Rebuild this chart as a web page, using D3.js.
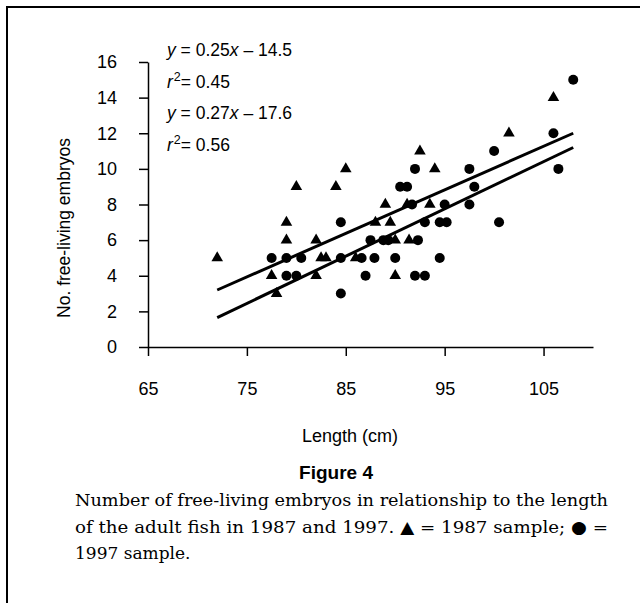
<!DOCTYPE html>
<html>
<head>
<meta charset="utf-8">
<script src="https://cdn.jsdelivr.net/npm/d3@7"></script>
<style>
  body { margin: 0; background: #fff; }
  .axis text { font-family: 'Liberation Sans', Arial, sans-serif; font-size: 18px; fill: #000; }
  .axis path, .axis line { stroke: #000; stroke-width: 1.5; }
  .eq { font-family: 'Liberation Sans', Arial, sans-serif; font-size: 17.5px; }
  .caption { font-family: 'DejaVu Serif', serif; font-size: 17px; }
</style>
</head>
<body>
<div id="chart"></div>
<script>
// 1987 sample (triangles)
var len1987 = [72, 77.5, 78, 79, 79, 80, 82, 82, 82.5, 83, 84, 85, 86, 88, 89.5, 89, 90, 91.4, 90, 91.2, 93.5, 92.5, 94, 101.5, 106];
var emb1987 = [5, 4, 3, 6, 7, 9, 6, 4, 5, 5, 9, 10, 5, 7, 7, 8, 6, 6, 4, 8, 8, 11, 10, 12, 14];

// 1997 sample (circles)
var len1997 = [77.5, 79, 80.5, 79, 80, 84.5, 84.5, 84.5, 86.6, 87.9, 87, 87.5, 88.8, 89.3, 90, 90.5, 91.2, 91.7, 92.3, 92, 92, 93, 93, 94.5, 95.2, 94.5, 95, 97.5, 97.5, 98, 100, 100.5, 106, 106.5, 108];
var emb1997 = [5, 5, 5, 4, 4, 3, 7, 5, 5, 5, 4, 6, 6, 6, 5, 9, 9, 8, 6, 10, 4, 4, 7, 7, 7, 5, 8, 8, 10, 9, 11, 7, 12, 10, 15];

// regression lines, end points as drawn
var fitX = [72, 108];
var fitUpper = [3.2, 12.0];
var fitLower = [1.65, 11.2];

var xTicks = [65, 75, 85, 95, 105];
var yTicks = [0, 2, 4, 6, 8, 10, 12, 14, 16];

var width = 640, height = 603;

var svg = d3.select('#chart')
    .append('svg')
    .attr('width', width)
    .attr('height', height);

// frame (left and top edges)
svg.append('path')
    .attr('d', 'M7,' + height + 'V7H' + width)
    .attr('fill', 'none')
    .attr('stroke', '#000')
    .attr('stroke-width', 2);

var x = d3.scaleLinear().domain([65, 110]).range([148, 593]);
var y = d3.scaleLinear().domain([0, 16]).range([347, 62]);

svg.append('g')
    .attr('class', 'axis')
    .attr('transform', 'translate(0,' + y(0) + ')')
    .call(d3.axisBottom(x).tickValues(xTicks).tickSize(9).tickSizeOuter(0).tickPadding(26));

svg.append('g')
    .attr('class', 'axis')
    .attr('transform', 'translate(' + x(65) + ',0)')
    .call(d3.axisLeft(y).tickValues(yTicks).tickSize(9).tickSizeOuter(0).tickPadding(22));

svg.selectAll('.axis .tick text').attr('fill', '#000');

svg.append('text')
    .attr('class', 'eq')
    .attr('x', 350)
    .attr('y', 442)
    .attr('text-anchor', 'middle')
    .style('font-size', '18px')
    .text('Length (cm)');

svg.append('text')
    .attr('class', 'eq')
    .attr('transform', 'translate(70,228) rotate(-90)')
    .attr('text-anchor', 'middle')
    .text('No. free-living embryos');

// fitted lines
var line = d3.line()
    .x(function (d) { return x(d[0]); })
    .y(function (d) { return y(d[1]); });

[fitUpper, fitLower].forEach(function (fy) {
    svg.append('path')
        .attr('d', line(fitX.map(function (v, i) { return [v, fy[i]]; })))
        .attr('fill', 'none')
        .attr('stroke', '#000')
        .attr('stroke-width', 3);
});

// points
var tri = d3.symbol().type(d3.symbolTriangle).size(58);
svg.append('g').selectAll('path')
    .data(len1987)
    .enter().append('path')
    .attr('d', tri)
    .attr('transform', function (d, i) {
        return 'translate(' + x(d) + ',' + y(emb1987[i]) + ')';
    })
    .attr('fill', '#000');

svg.append('g').selectAll('circle')
    .data(len1997)
    .enter().append('circle')
    .attr('cx', function (d) { return x(d); })
    .attr('cy', function (d, i) { return y(emb1997[i]); })
    .attr('r', 5)
    .attr('fill', '#000');

// equation labels
var eqs = [
    { kind: 'y', a: '0.25', b: '14.5' },
    { kind: 'r', v: '0.45' },
    { kind: 'y', a: '0.27', b: '17.6' },
    { kind: 'r', v: '0.56' }
];
eqs.forEach(function (e, i) {
    var t = svg.append('text')
        .attr('class', 'eq')
        .attr('x', 167)
        .attr('y', 56 + i * 31.5);
    if (e.kind === 'y') {
        t.append('tspan').style('font-style', 'italic').text('y');
        t.append('tspan').text(' = ' + e.a);
        t.append('tspan').style('font-style', 'italic').text('x');
        t.append('tspan').text(' \u2013 ' + e.b);
    } else {
        t.append('tspan').style('font-style', 'italic').text('r');
        t.append('tspan').attr('dx', 1).attr('dy', -7).style('font-size', '12.5px').text('2');
        t.append('tspan').attr('dy', 7).text('= ' + e.v);
    }
});

// caption
svg.append('text')
    .attr('x', 336)
    .attr('y', 479)
    .attr('text-anchor', 'middle')
    .style('font-family', "'Liberation Sans', Arial, sans-serif")
    .style('font-weight', 'bold')
    .style('font-size', '19px')
    .text('Figure 4');

var captionLines = [
    'Number of free-living embryos in relationship to the length',
    'of the adult fish in 1987 and 1997. \u25B2 = 1987 sample; \u25CF =',
    '1997 sample.'
];
captionLines.forEach(function (s, i) {
    var t = svg.append('text')
        .attr('class', 'caption')
        .attr('x', 75)
        .attr('y', 506 + i * 26.5)
        .text(s);
    if (i < 2) t.attr('textLength', 533).attr('lengthAdjust', 'spacingAndGlyphs');
});
</script>
</body>
</html>
